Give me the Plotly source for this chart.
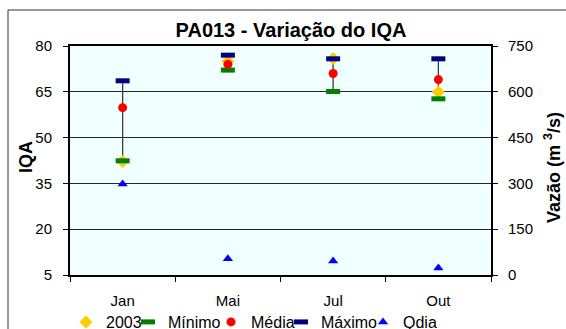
import plotly.graph_objects as go

# Monthly IQA campaign values for station PA013
meses = ["Jan", "Mai", "Jul", "Out"]
iqa_2003 = [42.2, 75.0, 75.9, 64.9]
iqa_minimo = [42.4, 72.1, 65.1, 62.7]
iqa_media = [59.8, 74.0, 71.0, 69.0]
iqa_maximo = [68.6, 77.0, 75.8, 75.8]
qdia = [298, 53, 46, 23]  # m3/s, right axis

FONT = "Liberation Sans, Arial, sans-serif"
W, H = 566, 329
ML, MR, MT, MB = 70, 75, 46, 54
PW, PH = W - ML - MR, H - MT - MB


def px_to_paper_x(px):
    return (px - ML) / PW


def px_to_paper_y(py):
    return (H - MB - py) / PH


fig = go.Figure()

# vertical min-max range lines per month
rx, ry = [], []
for m, lo, hi in zip(meses, iqa_minimo, iqa_maximo):
    rx += [m, m, None]
    ry += [lo, hi, None]
fig.add_trace(go.Scatter(x=rx, y=ry, mode="lines", showlegend=False,
                         line=dict(color="#3a3a3a", width=1.3), hoverinfo="skip"))

fig.add_trace(go.Scatter(x=meses, y=iqa_2003, mode="markers", name="2003",
                         legend="legend",
                         marker=dict(symbol="diamond", size=10, color="#FFCC00")))
fig.add_trace(go.Scatter(x=meses, y=iqa_minimo, mode="markers", name="Mínimo",
                         legend="legend2",
                         marker=dict(symbol="line-ew", size=10, color="#008000",
                                     line=dict(color="#008000", width=5))))
fig.add_trace(go.Scatter(x=meses, y=iqa_media, mode="markers", name="Média",
                         legend="legend3",
                         marker=dict(symbol="circle", size=9, color="#FF0000")))
fig.add_trace(go.Scatter(x=meses, y=iqa_maximo, mode="markers", name="Máximo",
                         legend="legend4",
                         marker=dict(symbol="line-ew", size=10, color="#000080",
                                     line=dict(color="#000080", width=5))))
fig.add_trace(go.Scatter(x=meses, y=qdia, mode="markers", name="Qdia",
                         legend="legend5", yaxis="y2",
                         marker=dict(symbol="triangle-up", size=9, color="#0000FF")))

# one single-entry legend per series, laid out in a row under the axis
leg_left = [66, 128, 211, 281, 363]
legends = {}
for i, left in enumerate(leg_left):
    key = "legend" if i == 0 else f"legend{i + 1}"
    legends[key] = dict(xref="container", yref="container",
                        x=left / W, xanchor="left",
                        y=1 - 322 / H, yanchor="middle",
                        bgcolor="rgba(0,0,0,0)", borderwidth=0,
                        font=dict(family=FONT, size=16, color="black"),
                        itemwidth=30)

axis_font = dict(family=FONT, size=15, color="black")
title_font = dict(family=FONT, size=18, color="black")

fig.update_layout(
    width=W, height=H,
    margin=dict(l=ML, r=MR, t=MT, b=MB, autoexpand=False),
    paper_bgcolor="white",
    plot_bgcolor="#F0FFFF",
    font=dict(family=FONT, color="black"),
    title=dict(text="<b>PA013 - Variação do IQA</b>",
               xref="container", yref="container",
               x=291 / W, xanchor="center",
               y=1 - 30 / H, yanchor="middle",
               font=dict(family=FONT, size=20, color="black")),
    xaxis=dict(type="category", categoryorder="array", categoryarray=meses,
               range=[-0.5, 3.5], tickson="boundaries", automargin=False,
               ticks="outside", ticklen=5, tickcolor="black", tickwidth=1,
               showline=True, linewidth=2, linecolor="black", mirror=True,
               showgrid=False, tickfont=axis_font, ticklabelstandoff=11),
    yaxis=dict(range=[5, 80], tick0=5, dtick=15, automargin=False,
               ticks="outside", ticklen=5, tickcolor="black", tickwidth=1,
               showline=True, linewidth=2, linecolor="black",
               showgrid=True, gridcolor="#262626", gridwidth=1, zeroline=False,
               tickfont=axis_font, ticklabelstandoff=8),
    yaxis2=dict(overlaying="y", side="right", range=[0, 750], tick0=0, dtick=150,
                automargin=False,
                ticks="outside", ticklen=5, tickcolor="black", tickwidth=1,
                showline=True, linewidth=2, linecolor="black",
                showgrid=False, zeroline=False,
                tickfont=axis_font, ticklabelstandoff=7),
    showlegend=True,
    **legends,
)

# axis titles
fig.add_annotation(text="<b>IQA</b>", xref="paper", yref="paper",
                   x=px_to_paper_x(26), y=px_to_paper_y(157),
                   xanchor="center", yanchor="middle", textangle=-90,
                   showarrow=False, font=title_font)
fig.add_annotation(text="<b>Vazão (m <sup>3</sup>/s)</b>", xref="paper", yref="paper",
                   x=px_to_paper_x(552), y=px_to_paper_y(168),
                   xanchor="center", yanchor="middle", textangle=-90,
                   showarrow=False, font=title_font)

# outer chart frame
fig.add_shape(type="rect", xref="paper", yref="paper",
              x0=px_to_paper_x(8), x1=px_to_paper_x(W + 30),
              y0=px_to_paper_y(H + 30), y1=px_to_paper_y(10),
              line=dict(color="#333333", width=1), fillcolor="rgba(0,0,0,0)",
              layer="below")

fig.write_html("out.html")
